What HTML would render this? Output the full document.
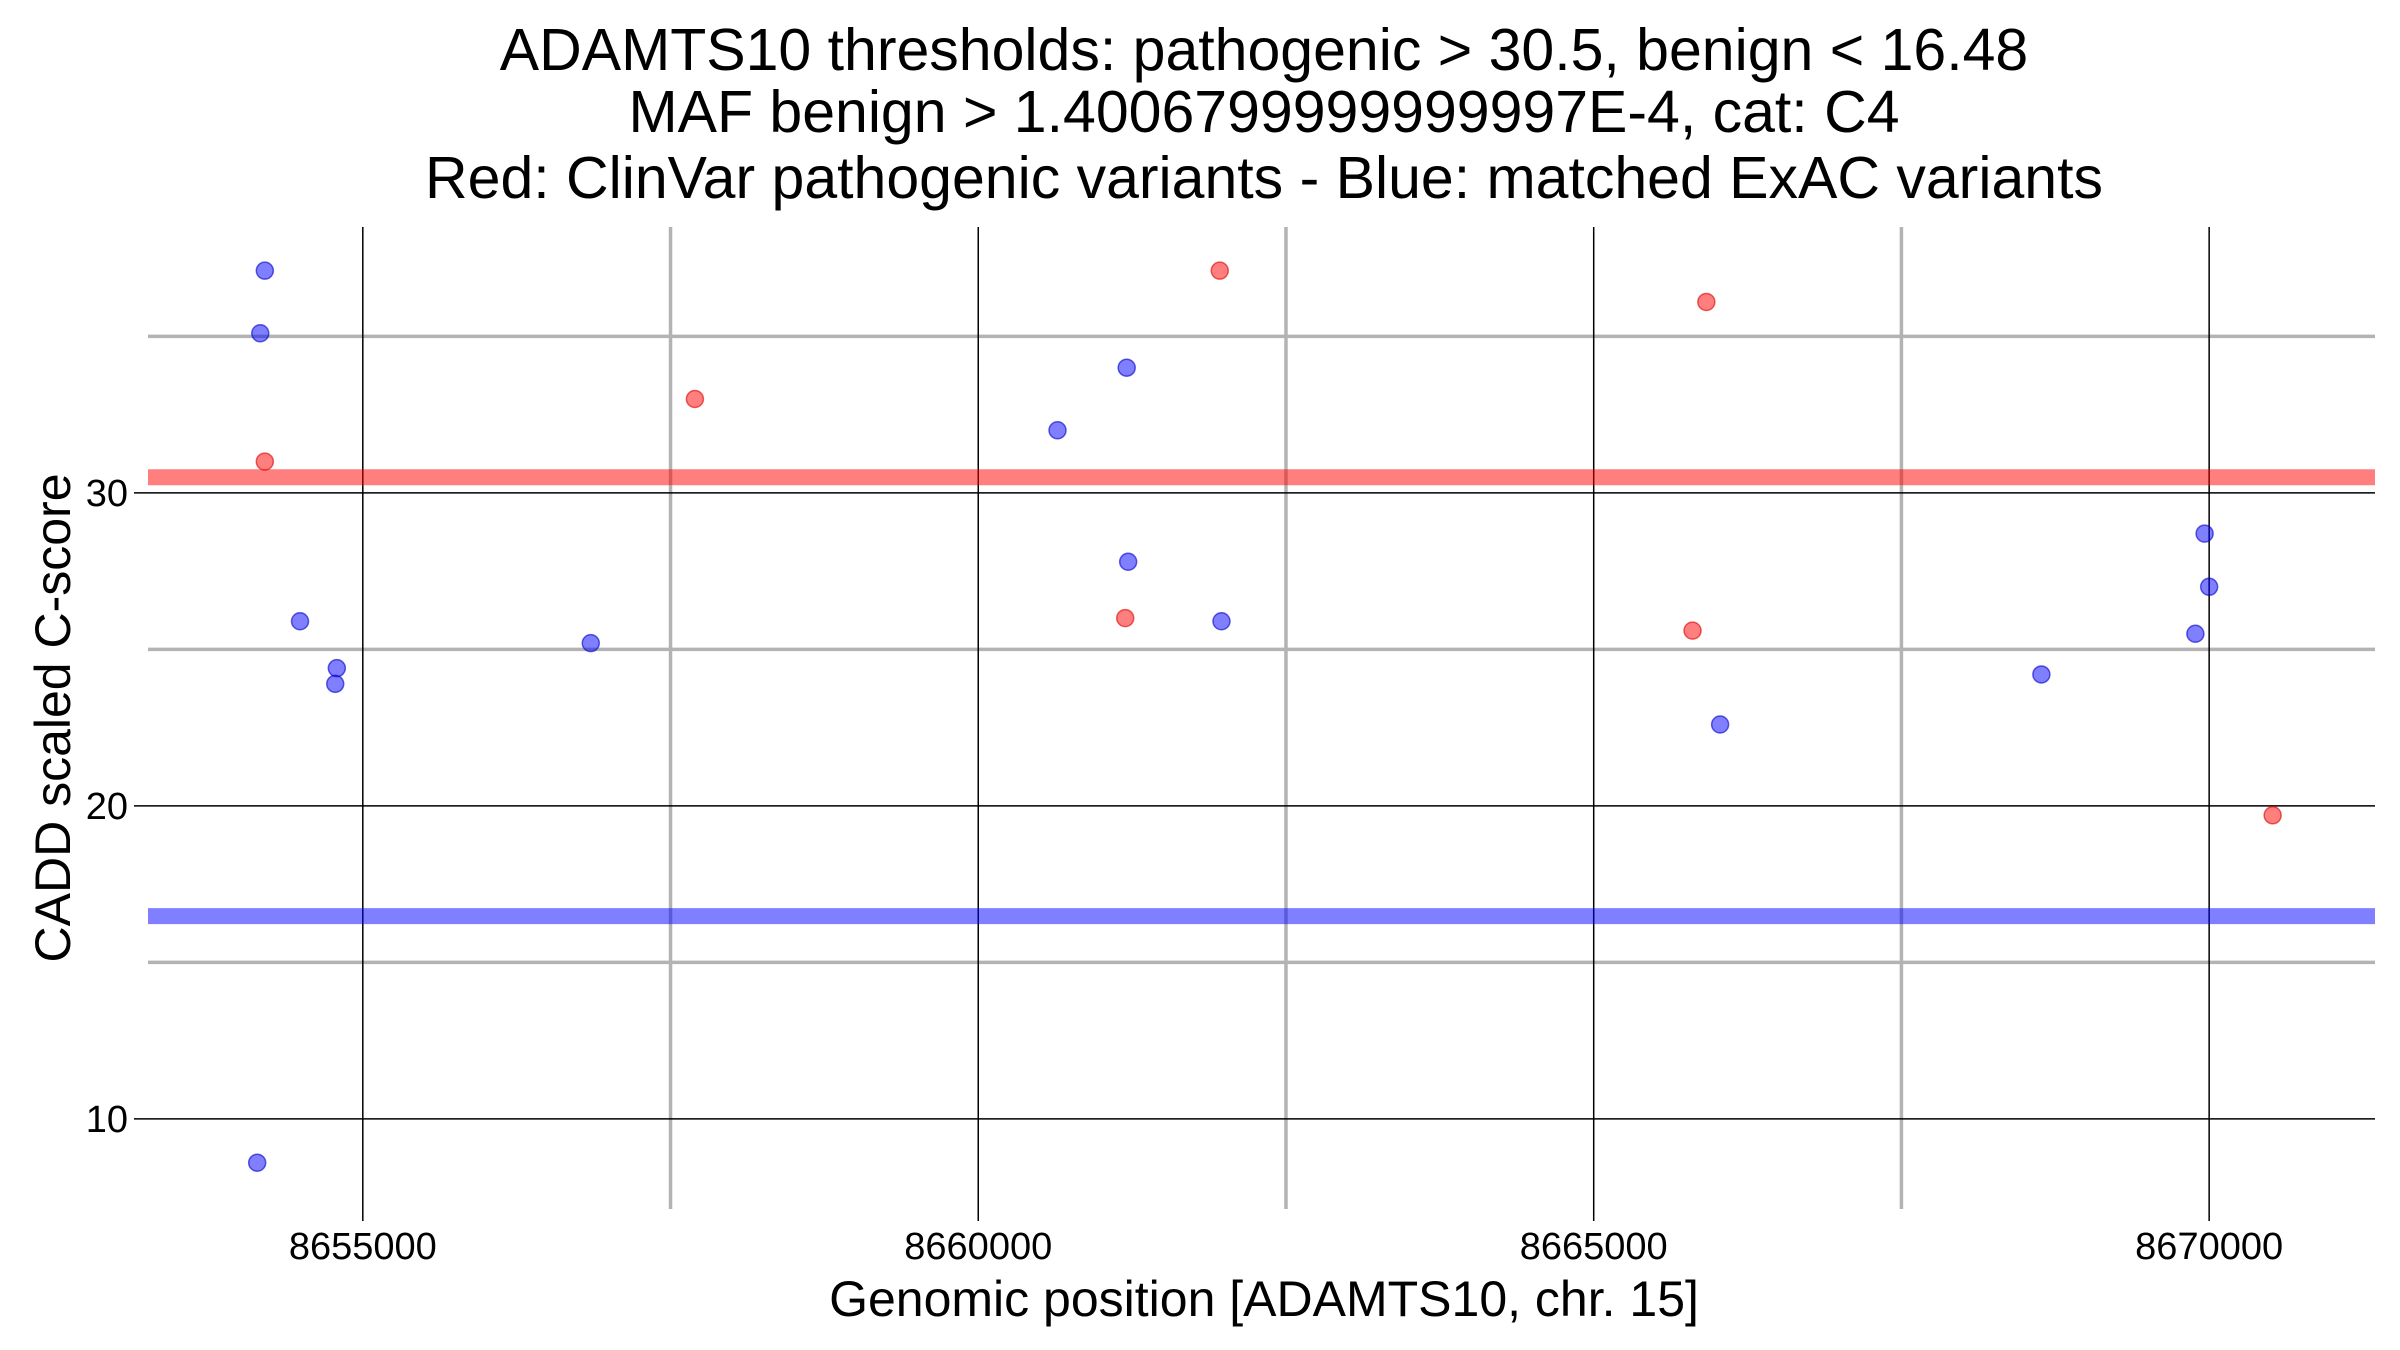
<!DOCTYPE html>
<html><head><meta charset="utf-8"><style>
html,body{margin:0;padding:0;background:#fff;}
svg{display:block;font-family:"Liberation Sans",Arial,sans-serif;}
</style></head><body>
<svg id="chart" width="2400" height="1350" viewBox="0 0 2400 1350" xmlns="http://www.w3.org/2000/svg">
<g font-size="59" text-anchor="middle" fill="#000">
<text x="1264" y="70">ADAMTS10 thresholds: pathogenic &gt; 30.5, benign &lt; 16.48</text>
<text x="1264" y="132">MAF benign &gt; 1.4006799999999997E-4, cat: C4</text>
<text x="1264" y="198">Red: ClinVar pathogenic variants - Blue: matched ExAC variants</text>
</g>
<g id="grid"></g>
<g id="marks"></g>
<g id="axes"></g>
<text x="1264" y="1316" font-size="50" text-anchor="middle">Genomic position [ADAMTS10, chr. 15]</text>
<text transform="translate(70,718) rotate(-90)" font-size="50" text-anchor="middle">CADD scaled C-score</text>
</svg>
<script>
const xTicks=[8655000,8660000,8665000,8670000];
const yTicks=[10,20,30];
const xMinor=[8657500,8662500,8667500];
const yMinor=[15,25,35];
const blueX=[8654204,8654167,8654490,8654789,8654776,8656852,8654142,8660644,8661206,8661218,8661976,8666027,8668637,8669963,8670000,8669888];
const blueY=[37.1,35.1,25.9,24.4,23.9,25.2,8.6,32.0,34.0,27.8,25.9,22.6,24.2,28.7,27.0,25.5];
const redX=[8654204,8657698,8661962,8661194,8665915,8665803,8670516];
const redY=[31.0,33.0,37.1,26.0,36.1,25.6,19.7];
const pathThreshold=30.5, benignThreshold=16.48;

const L=148,R=2375,T=227,B=1209;
const X=v=>362.8+(v-8655000)*(615.45/5000);
const Y=v=>492.9-(v-30)*(313.0/10);
const NS="http://www.w3.org/2000/svg";
function mk(tag,attrs,parent){const e=document.createElementNS(NS,tag);for(const k in attrs)e.setAttribute(k,attrs[k]);parent.appendChild(e);return e;}
const grid=document.getElementById('grid'),marks=document.getElementById('marks'),axes=document.getElementById('axes');
xMinor.forEach(v=>{const l=mk('line',{x1:X(v),x2:X(v),y1:T,y2:B,stroke:'#b3b3b3','stroke-width':3.5},grid);

});
yMinor.forEach(v=>{const l=mk('line',{x1:L,x2:R,y1:Y(v),y2:Y(v),stroke:'#b3b3b3','stroke-width':3.5},grid);

});
xTicks.forEach(v=>{const l=mk('line',{x1:X(v),x2:X(v),y1:T,y2:B+12,stroke:'#000','stroke-width':1.5},grid);


const t=mk('text',{x:X(v),y:B+50,'font-size':38,'text-anchor':'middle'},axes);t.textContent=v;

});
yTicks.forEach(v=>{const l=mk('line',{x1:L-14,x2:R,y1:Y(v),y2:Y(v),stroke:'#000','stroke-width':1.5},grid);


const t=mk('text',{x:L-20,y:Y(v)+13,'font-size':38,'text-anchor':'end'},axes);t.textContent=v;

});
const pl=mk('line',{x1:L,x2:R,y1:Y(pathThreshold),y2:Y(pathThreshold),stroke:'rgba(255,0,0,0.5)','stroke-width':16},marks);


const bl=mk('line',{x1:L,x2:R,y1:Y(benignThreshold),y2:Y(benignThreshold),stroke:'rgba(0,0,255,0.5)','stroke-width':16},marks);


blueX.forEach((v,i)=>{const c=mk('circle',{cx:X(v),cy:Y(blueY[i]),r:8.5,fill:'rgba(0,0,255,0.5)',stroke:'rgba(0,0,200,0.6)','stroke-width':1.5},marks);

});
redX.forEach((v,i)=>{const c=mk('circle',{cx:X(v),cy:Y(redY[i]),r:8.5,fill:'rgba(255,0,0,0.5)',stroke:'rgba(220,0,0,0.6)','stroke-width':1.5},marks);

});
</script>
</body></html>
